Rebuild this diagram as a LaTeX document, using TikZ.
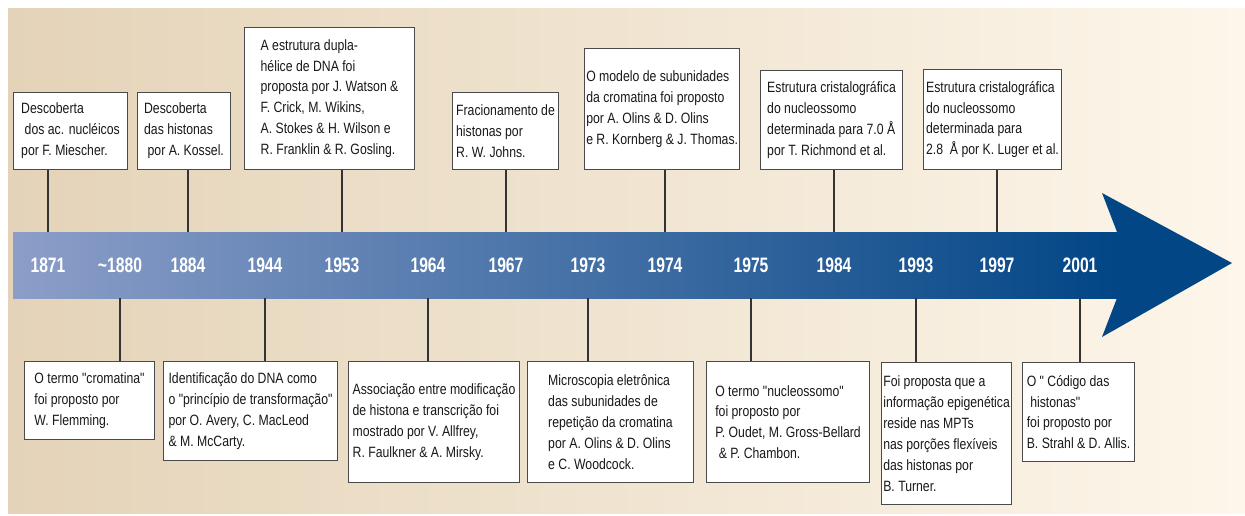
\documentclass[tikz,border=0pt]{standalone}
\usepackage{fontspec}
\setmainfont{Liberation Sans}
\newfontfamily\boxfont{Liberation Sans}[FakeStretch=0.82]
\newfontfamily\yearfont{Liberation Sans}[FakeStretch=0.75]

\definecolor{bgleft}{HTML}{E4D3B8}
\definecolor{bgright}{HTML}{FDF6EA}
\definecolor{barleft}{HTML}{8C9EC8}
\definecolor{headblue}{HTML}{024686}
\definecolor{edgegray}{HTML}{4A4A4A}

\begin{document}
\begin{tikzpicture}[x=0.02cm, y=-0.02cm,
  fact/.style 2 args={draw=edgegray, fill=white, line width=0.6pt, anchor=north west, align=left, inner sep=1pt, text=black!90, font=\boxfont\fontsize{8.5}{11.9}\selectfont, minimum width=#1*0.02cm, minimum height=#2*0.02cm},
  year/.style={text=white, font=\yearfont\bfseries\fontsize{11.9}{14}\selectfont},
  tick/.style={draw=black!80, line width=0.6pt}]
\useasboundingbox (0,0) rectangle (1245,515);
\fill[left color=bgleft, right color=bgright] (8,8) rectangle (1245,513);

\fill[left color=barleft, right color=headblue] (13,232) rectangle (1117,298);
\fill[headblue] (1117,232) -- (1102,193) -- (1232,263) -- (1102,337) -- (1117,298) -- cycle;
\coordinate (up) at (0,232);
\coordinate (down) at (0,298);

\node[year](y1871) at (48,265) {1871};
\node[year](y1880) at (120,265) {\textasciitilde1880};
\node[year](y1884) at (188,265) {1884};
\node[year](y1944) at (265,265) {1944};
\node[year](y1953) at (342,265) {1953};
\node[year](y1964) at (428,265) {1964};
\node[year](y1967) at (506,265) {1967};
\node[year](y1973) at (588,265) {1973};
\node[year](y1974) at (665,265) {1974};
\node[year](y1975) at (751,265) {1975};
\node[year](y1984) at (834,265) {1984};
\node[year](y1993) at (916,265) {1993};
\node[year](y1997) at (997,265) {1997};
\node[year](y2001) at (1080,265) {2001};

\node[fact={114}{77}](b1871) at (13,92) {Descoberta\\\hspace*{2pt}dos ac. nucléicos\\por F. Miescher.};
\node[fact={93}{77}](b1884) at (137,92) {Descoberta\\das histonas\\\hspace*{2pt}por A. Kossel.};
\node[fact={170}{142}](b1953) at (244,27) {A estrutura dupla-\\hélice de DNA foi\\proposta por J. Watson \&\\F. Crick, M. Wikins,\\A. Stokes \& H. Wilson e\\R. Franklin \& R. Gosling.};
\node[fact={106}{77}](b1967) at (452,92) {Fracionamento de\\histonas por\\R. W. Johns.};
\node[fact={154}{121}](b1974) at (584,48) {O modelo de subunidades\\da cromatina foi proposto\\por A. Olins \& D. Olins\\e R. Kornberg \& J. Thomas.};
\node[fact={142}{99}](b1984) at (760,70) {Estrutura cristalográfica\\do nucleossomo\\determinada para 7.0 Å\\por T. Richmond et al.};
\node[fact={138}{100}](b1997) at (923,69) {Estrutura cristalográfica\\do nucleossomo\\determinada para\\2.8\ \ Å por K. Luger et al.};

\node[fact={130}{78}](b1880) at (24,361) {O termo "cromatina"\\foi proposto por\\W. Flemming.};
\node[fact={174}{99}](b1944) at (163,361) {Identificação do DNA como\\o "princípio de transformação"\\por O. Avery, C. MacLeod\\\& M. McCarty.};
\node[fact={171}{121}](b1964) at (348,361) {Associação entre modificação\\de histona e transcrição foi\\mostrado por V. Allfrey,\\R. Faulkner \& A. Mirsky.};
\node[fact={166}{121}](b1973) at (527,361) {Microscopia eletrônica\\das subunidades de\\repetição da cromatina\\por A. Olins \& D. Olins\\e C. Woodcock.};
\node[fact={163}{121}](b1975) at (706,361) {O termo "nucleossomo"\\foi proposto por\\P. Oudet, M. Gross-Bellard\\\hspace*{2pt}\& P. Chambon.};
\node[fact={130}{142}](b1993) at (881,362) {Foi proposta que a\\informação epigenética\\reside nas MPTs\\nas porções flexíveis\\das histonas por\\B. Turner.};
\node[fact={112}{99}](b2001) at (1022,362) {O " Código das\\\hspace*{2pt}histonas"\\foi proposto por\\B. Strahl \& D. Allis.};

\path[tick](y1871 |- b1871.south) edge (y1871 |- up);
\path[tick](y1884 |- b1884.south) edge (y1884 |- up);
\path[tick](y1953 |- b1953.south) edge (y1953 |- up);
\path[tick](y1967 |- b1967.south) edge (y1967 |- up);
\path[tick](y1974 |- b1974.south) edge (y1974 |- up);
\path[tick](y1984 |- b1984.south) edge (y1984 |- up);
\path[tick](y1997 |- b1997.south) edge (y1997 |- up);
\path[tick](y1880 |- down) edge (y1880 |- b1880.north);
\path[tick](y1944 |- down) edge (y1944 |- b1944.north);
\path[tick](y1964 |- down) edge (y1964 |- b1964.north);
\path[tick](y1973 |- down) edge (y1973 |- b1973.north);
\path[tick](y1975 |- down) edge (y1975 |- b1975.north);
\path[tick](y1993 |- down) edge (y1993 |- b1993.north);
\path[tick](y2001 |- down) edge (y2001 |- b2001.north);
\end{tikzpicture}
\end{document}
